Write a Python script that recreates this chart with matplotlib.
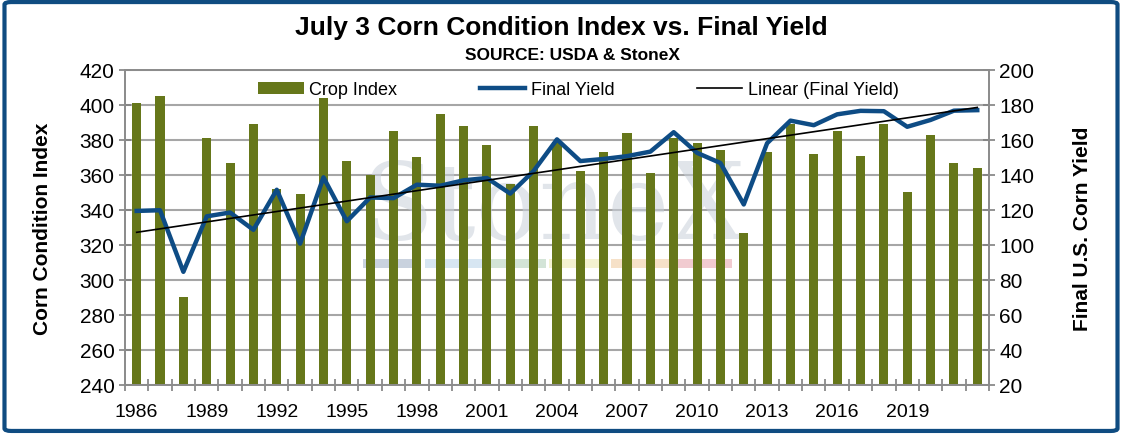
import numpy as np
import matplotlib
matplotlib.use('Agg')
import matplotlib.pyplot as plt
from matplotlib.patches import FancyBboxPatch, Rectangle

plt.rcParams['font.family'] = ['Liberation Sans', 'DejaVu Sans']

years = list(range(1986, 2023))
crop_index = [401, 405, 290, 381, 367, 389, 352, 349, 404, 368,
              360, 385, 370, 395, 388, 377, 355, 388, 379, 362,
              373, 384, 361, 381, 378, 374, 327, 373, 389, 372,
              385, 371, 389, 350, 383, 367, 364]
final_yield = [119.4, 119.8, 84.6, 116.3, 118.5, 108.6, 131.5, 100.7, 138.6, 113.5,
               127.1, 126.7, 134.4, 133.8, 136.9, 138.2, 129.3, 142.2, 160.3, 147.9,
               149.1, 150.7, 153.3, 164.4, 152.6, 146.8, 123.1, 158.1, 171.0, 168.4,
               174.6, 176.6, 176.4, 167.5, 171.4, 176.7, 177.0]
label_years = list(range(1986, 2020, 3))
left_ticks = list(range(240, 421, 20))
right_ticks = list(range(20, 201, 20))

bar_color = '#66771A'
line_color = '#0E4C85'
grid_color = '#A6A6A6'

x = np.arange(len(years))
# Excel style linear trendline on the yield series
slope, intercept = np.polyfit(x, final_yield, 1)
trend = slope * x + intercept

fig = plt.figure(figsize=(11.22, 4.35), dpi=100)
ax = fig.add_axes([0.1114, 0.113, 0.770, 0.724])
ax2 = ax.twinx()

ax.bar(x, crop_index, width=0.39, color=bar_color, label='Crop Index', zorder=2)
ax.set_ylim(240, 420)
ax.set_yticks(left_ticks)
ax.set_xlim(-0.5, len(years) - 0.5)
ax.set_xticks([years.index(y) for y in label_years])
ax.set_xticklabels([str(y) for y in label_years])
ax.set_xticks(np.arange(-0.5, len(years)), minor=True)
ax.tick_params(axis='x', which='major', length=0, labelsize=14, pad=13)
ax.tick_params(axis='x', which='minor', direction='inout', length=8, color='#808080', width=1.2)
ax.tick_params(axis='y', direction='inout', length=8, color='#808080', width=1.2, labelsize=15)
ax.yaxis.grid(True, color=grid_color, linewidth=1.5, zorder=0)
ax.set_axisbelow(True)
ax.set_ylabel('Corn Condition Index', fontsize=15, fontweight='bold', labelpad=20)

ax2.plot(x, final_yield, color=line_color, linewidth=3.2, label='Final Yield', zorder=3)
ax2.plot(x, trend, color='black', linewidth=1.2, label='Linear (Final Yield)', zorder=4)
ax2.set_ylim(20, 200)
ax2.set_yticks(right_ticks)
ax2.tick_params(axis='y', direction='inout', length=8, color='#808080', width=1.2, labelsize=15)
ax2.set_ylabel('Final U.S. Corn Yield', fontsize=15, fontweight='bold', labelpad=28)

for a in (ax, ax2):
    for s in a.spines.values():
        s.set_color('#8C8C8C')
        s.set_linewidth(1.3)

# watermark
ax.text(0.495, 0.56, 'StoneX', transform=ax.transAxes, ha='center', va='center',
        fontsize=76, family='DejaVu Serif', color='#C9D0DA', alpha=0.55, zorder=1)
stripe = ['#C3CEDB', '#D3E4F1', '#CFE2D3', '#F3F1CC', '#F5DEC2', '#F0C6CB']
for i, c in enumerate(stripe):
    ax.add_patch(Rectangle((0.275 + i * 0.072, 0.37), 0.068, 0.03, transform=ax.transAxes,
                           color=c, alpha=0.9, zorder=1, linewidth=0))

h1, l1 = ax.get_legend_handles_labels()
h2, l2 = ax2.get_legend_handles_labels()
ax2.legend(h1 + h2, l1 + l2, loc='upper center', bbox_to_anchor=(0.525, 1.015), ncol=3,
           frameon=False, fontsize=13, columnspacing=4.6, handlelength=2.5, handletextpad=0.3)

fig.text(0.5, 0.935, 'July 3 Corn Condition Index vs. Final Yield', ha='center', va='center',
         fontsize=19, fontweight='bold')
fig.text(0.51, 0.873, 'SOURCE: USDA & StoneX', ha='center', va='center',
         fontsize=12.5, fontweight='bold')

fig.patches.append(FancyBboxPatch((0.004, 0.007), 0.992, 0.986, boxstyle='round,pad=0,rounding_size=0.006',
                                  transform=fig.transFigure, fill=False, edgecolor='#0F4C81', linewidth=3))

fig.savefig('out.png', dpi=100)
